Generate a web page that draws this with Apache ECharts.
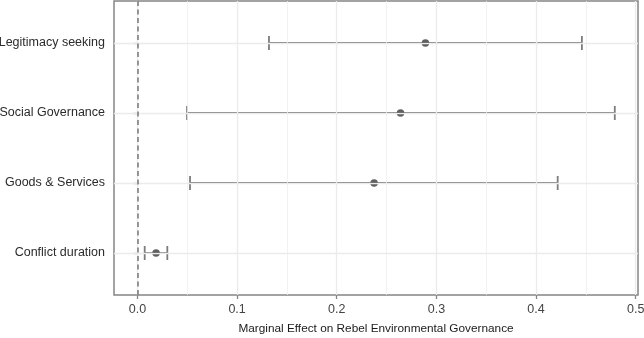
<!DOCTYPE html>
<html><head><meta charset="utf-8">
<script src="https://cdn.jsdelivr.net/npm/echarts@6/dist/echarts.min.js"></script>
<style>html,body{margin:0;padding:0;background:#fff}#c{width:644px;height:338px}</style>
</head><body><div id="c"></div>
<script>
const categories = ['Conflict duration', 'Goods & Services', 'Social Governance', 'Legitimacy seeking'];
const estimates = [0.0187, 0.2375, 0.264, 0.289];
const lower = [0.0073, 0.0528, 0.0498, 0.132];
const upper = [0.030, 0.4217, 0.479, 0.446];
const xTicks = [0, 0.1, 0.2, 0.3, 0.4, 0.5];
const xMinorGrid = [0.05, 0.15, 0.25, 0.35, 0.45];
const yTicks = [1, 2, 3, 4];
const xTitle = 'Marginal Effect on Rebel Environmental Governance';

const FONT = '"Liberation Sans", Arial, Helvetica, sans-serif';
const chart = echarts.init(document.getElementById('c'));

const gridLines = [];
xMinorGrid.forEach(v => gridLines.push({xAxis: v, lineStyle: {color: '#efefef', width: 0.8, type: 'solid'}}));
xTicks.forEach(v => gridLines.push({xAxis: v, lineStyle: {color: '#ebebeb', width: 1.3, type: 'solid'}}));
yTicks.forEach(v => gridLines.push({yAxis: v, lineStyle: {color: '#ebebeb', width: 1.3, type: 'solid'}}));

const errData = categories.map((c, i) => [lower[i], upper[i], i + 1]);
const ptData = categories.map((c, i) => [estimates[i], i + 1]);

chart.setOption({
  animation: false,
  grid: {left: 114, right: 6, top: 1, bottom: 43, show: true, borderColor: '#858585', borderWidth: 1.5, containLabel: false, outerBoundsMode: 'none'},
  xAxis: {
    type: 'value', min: -0.0235, max: 0.5023,
    axisLine: {show: false},
    splitLine: {show: false},
    axisTick: {show: true, customValues: xTicks, length: 4, lineStyle: {color: '#858585', width: 1.3}},
    axisLabel: {customValues: xTicks, formatter: v => v.toFixed(1), margin: 8, color: '#444', fontSize: 12.5, fontFamily: FONT},
    name: xTitle, nameLocation: 'middle', nameGap: 28,
    nameTextStyle: {color: '#1a1a1a', fontSize: 11.8, fontFamily: FONT}
  },
  yAxis: {
    type: 'value', min: 0.4, max: 4.6,
    axisLine: {show: false},
    splitLine: {show: false},
    axisTick: {show: true, customValues: yTicks, length: 4, lineStyle: {color: '#858585', width: 1.3}},
    axisLabel: {customValues: yTicks, formatter: v => categories[Math.round(v) - 1], margin: 9, color: '#2b2b2b', fontSize: 12.5, fontFamily: FONT}
  },
  series: [
    {
      type: 'scatter', data: [], z: 1, silent: true,
      markLine: {silent: true, symbol: 'none', label: {show: false}, animation: false, data: gridLines}
    },
    {
      type: 'scatter', data: [], z: 2, silent: true,
      markLine: {silent: true, symbol: 'none', label: {show: false}, animation: false,
        data: [{xAxis: 0, lineStyle: {color: '#777', width: 1.5, type: [5, 3.5]}}]}
    },
    {
      type: 'custom', z: 3, silent: true,
      data: errData,
      encode: {x: [0, 1], y: 2},
      renderItem: function (params, api) {
        const lo = api.value(0), hi = api.value(1), y = api.value(2);
        const p1 = api.coord([lo, y]);
        const p2 = api.coord([hi, y]);
        const h = api.size([0, 0.1])[1];
        const st = {stroke: '#7c7c7c', lineWidth: 1.8};
        return {
          type: 'group',
          children: [
            {type: 'line', shape: {x1: p1[0], y1: p1[1], x2: p2[0], y2: p2[1]}, style: st},
            {type: 'line', shape: {x1: p1[0], y1: p1[1] - h, x2: p1[0], y2: p1[1] + h}, style: st},
            {type: 'line', shape: {x1: p2[0], y1: p2[1] - h, x2: p2[0], y2: p2[1] + h}, style: st}
          ]
        };
      }
    },
    {
      type: 'scatter', z: 4, silent: true,
      data: ptData, symbol: 'circle', symbolSize: 7.5,
      itemStyle: {color: '#383838'}
    }
  ]
});
</script></body></html>
